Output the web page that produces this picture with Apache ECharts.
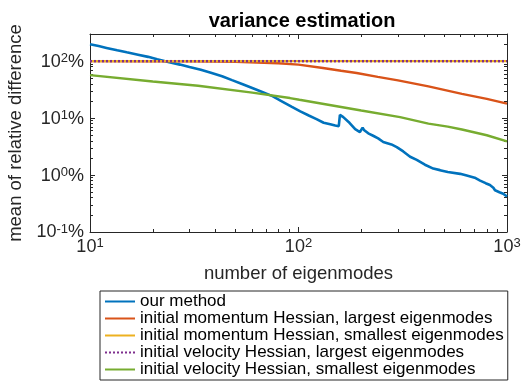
<!DOCTYPE html>
<html>
<head>
<meta charset="utf-8">
<script src="https://cdn.jsdelivr.net/npm/echarts@6/dist/echarts.min.js"></script>
<style>
  html, body { margin: 0; padding: 0; background: #fff; }
  #chart { width: 531px; height: 381px; }
</style>
</head>
<body>
<div id="chart"></div>
<script>
// values (log-log)
const blueX = [10, 11, 12, 13.5, 15, 17, 19, 21, 24, 27, 30, 34, 38, 43, 48, 54, 60, 67, 75, 84, 93, 102, 112, 122, 132, 142, 150, 156, 158, 164, 176, 187, 197, 203, 206, 216, 228, 241, 255, 279, 296, 318, 343, 369, 404, 443, 477, 520, 596, 641, 700, 743, 790, 828, 860, 876, 920, 959, 1000];
const blueY = [198, 184, 171, 155, 143, 130, 119, 108, 96, 87, 79, 70.6, 62.5, 54.5, 46.5, 39.3, 33.7, 28.7, 24.3, 19.3, 15.7, 13.1, 11.1, 9.6, 8.3, 7.8, 7.4, 7.2, 11.4, 10.4, 8.2, 6.4, 5.7, 6.8, 6.2, 5.4, 4.9, 4.4, 3.8, 3.45, 3.1, 2.6, 2.1, 1.85, 1.52, 1.3, 1.22, 1.13, 1.05, 0.98, 0.9, 0.8, 0.72, 0.67, 0.6, 0.54, 0.5, 0.47, 0.42];

const orangeX = [10, 20, 30, 40, 50, 63, 80, 100, 131, 160, 190, 240, 300, 420, 608, 800, 1000];
const orangeY = [100, 99.8, 99.3, 98.5, 97, 95, 92, 87, 76, 68, 62, 53, 46, 36, 26.7, 21.8, 18];

const flatX = [10, 1000];
const yellowY = [100, 100];
const purpleY = [100, 100];

const greenX = [10, 20, 33, 60, 91, 101, 200, 307, 420, 520, 608, 800, 1000];
const greenY = [56.8, 44, 37, 28, 22.5, 21, 13.6, 10.4, 8.0, 7.1, 6.3, 5.0, 3.9];

const seriesNames = [
  "our method",
  "initial momentum Hessian, largest eigenmodes",
  "initial momentum Hessian, smallest eigenmodes",
  "initial velocity Hessian, largest eigenmodes",
  "initial velocity Hessian, smallest eigenmodes",
];

// tick labels / tick marks
const xMajor = [10, 100, 1000];
const xMinor = [20, 30, 40, 50, 60, 70, 80, 90, 200, 300, 400, 500, 600, 700, 800, 900];
const yMajor = [0.1, 1, 10, 100];
const yMinor = [0.2, 0.3, 0.4, 0.5, 0.6, 0.7, 0.8, 0.9, 2, 3, 4, 5, 6, 7, 8, 9, 20, 30, 40, 50, 60, 70, 80, 90, 200, 300];

const FONT = "Liberation Sans";
const AXIS = "#262626";

const zip = (xs, ys) => xs.map((x, i) => [x, ys[i]]);

const rich = {
  b: { fontFamily: FONT, fontSize: 18, color: AXIS, lineHeight: 19, verticalAlign: "bottom" },
  s: { fontFamily: FONT, fontSize: 13, color: AXIS, lineHeight: 13, verticalAlign: "top", padding: [0, 0, 10, 0] },
};

const expOf = (v) => Math.round(Math.log10(v));

function tickAxis(pos, ticks, len, dimMin, dimMax) {
  return {
    type: "log", logBase: 10, min: dimMin, max: dimMax, position: pos,
    axisLine: { show: false },
    axisTick: { show: true, inside: true, length: len, customValues: ticks, lineStyle: { color: AXIS, width: 1 } },
    axisLabel: { show: false },
    splitLine: { show: false },
  };
}

const chart = echarts.init(document.getElementById("chart"), null, { renderer: "canvas" });

chart.setOption({
  animation: false,
  backgroundColor: "#fff",
  title: {
    text: "variance estimation",
    left: 297,
    textAlign: "center",
    top: 6,
    textStyle: { fontFamily: FONT, fontSize: 20, fontWeight: "bold", color: "#000" },
  },
  grid: { left: 90, right: 24, top: 34, bottom: 149, outerBoundsMode: "none" },
  legend: {
    orient: "vertical",
    left: 100,
    top: 291,
    padding: [2, 4, 2, 4],
    itemGap: 0,
    itemWidth: 30,
    itemHeight: 14,
    borderColor: AXIS,
    borderWidth: 1,
    borderRadius: 0,
    itemStyle: { opacity: 0 },
    textStyle: { fontFamily: FONT, fontSize: 17, color: "#000", lineHeight: 16.6 },
    data: seriesNames,
  },
  xAxis: [
    {
      type: "log", logBase: 10, min: 10, max: 1000, position: "bottom",
      name: "number of eigenmodes", nameLocation: "middle", nameGap: 30,
      nameTextStyle: { fontFamily: FONT, fontSize: 18.5, color: AXIS },
      axisLine: { show: true, lineStyle: { color: AXIS, width: 1 } },
      axisTick: { show: true, inside: true, length: 5, customValues: xMajor, lineStyle: { color: AXIS } },
      axisLabel: {
        customValues: xMajor, margin: 5,
        formatter: (v) => "{b|10}{s|" + expOf(v) + "}",
        rich: rich,
      },
      splitLine: { show: false },
    },
    {
      type: "log", logBase: 10, min: 10, max: 1000, position: "top",
      axisLine: { show: true, lineStyle: { color: AXIS, width: 1 } },
      axisTick: { show: true, inside: true, length: 5, customValues: xMajor, lineStyle: { color: AXIS } },
      axisLabel: { show: false },
      splitLine: { show: false },
    },
    tickAxis("bottom", xMinor, 3, 10, 1000),
    tickAxis("top", xMinor, 3, 10, 1000),
  ],
  yAxis: [
    {
      type: "log", logBase: 10, min: 0.1, max: 300, position: "left",
      name: "mean of relative difference", nameLocation: "middle", nameGap: 54,
      nameTextStyle: { fontFamily: FONT, fontSize: 18.5, color: AXIS },
      axisLine: { show: true, lineStyle: { color: AXIS, width: 1 } },
      axisTick: { show: true, inside: true, length: 5, customValues: yMajor, lineStyle: { color: AXIS } },
      axisLabel: {
        customValues: yMajor, margin: 6,
        formatter: (v) => "{b|10}{s|" + expOf(v) + "}{b|%}",
        rich: rich,
      },
      splitLine: { show: false },
    },
    {
      type: "log", logBase: 10, min: 0.1, max: 300, position: "right",
      axisLine: { show: true, lineStyle: { color: AXIS, width: 1 } },
      axisTick: { show: true, inside: true, length: 5, customValues: yMajor, lineStyle: { color: AXIS } },
      axisLabel: { show: false },
      splitLine: { show: false },
    },
    tickAxis("left", yMinor, 3, 0.1, 300),
    tickAxis("right", yMinor, 3, 0.1, 300),
  ],
  series: [
    { name: seriesNames[0], type: "line", data: zip(blueX, blueY), color: "#0072BD", lineStyle: { width: 2.6 } },
    { name: seriesNames[1], type: "line", data: zip(orangeX, orangeY), color: "#D95319", lineStyle: { width: 2.4 } },
    { name: seriesNames[2], type: "line", data: zip(flatX, yellowY), color: "#EDB120", lineStyle: { width: 2.4 } },
    { name: seriesNames[3], type: "line", data: zip(flatX, purpleY), color: "#7E2F8E", lineStyle: { width: 2.4, type: [2, 2] } },
    { name: seriesNames[4], type: "line", data: zip(greenX, greenY), color: "#77AC30", lineStyle: { width: 2.4 } },
  ].map((s) => Object.assign(s, { symbol: "none", showSymbol: false, smooth: false, clip: true, xAxisIndex: 0, yAxisIndex: 0 })),
});
</script>
</body>
</html>
